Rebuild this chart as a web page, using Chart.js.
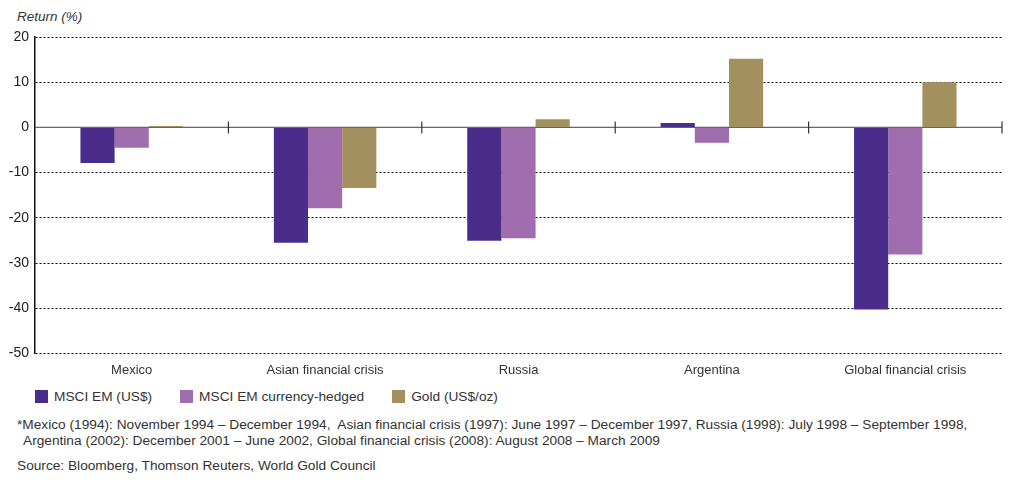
<!DOCTYPE html>
<html>
<head>
<meta charset="utf-8">
<script src="https://cdn.jsdelivr.net/npm/chart.js@4.4.1/dist/chart.umd.min.js"></script>
<style>
  html, body { margin: 0; padding: 0; background: #fff; }
  body { width: 1024px; height: 491px; position: relative; overflow: hidden;
         font-family: "Liberation Sans", Arial, sans-serif; color: #333; }
  #wrap { position: absolute; left: 0; top: 0; width: 1024px; height: 379px; }
  #ytitle { position: absolute; left: 17px; top: 9px; font-size: 13.5px; font-style: italic; color: #333; }
  #legend { position: absolute; left: 35px; top: 389px; font-size: 13.7px; display: flex; }
  #legend .item { display: flex; align-items: center; margin-right: 28px; }
  #legend .box { width: 13px; height: 13px; margin-right: 6px; }
  #note { position: absolute; left: 17px; top: 417px; font-size: 13.7px; line-height: 16px; }
  #note .l2 { padding-left: 6px; }
  #source { position: absolute; left: 17px; top: 458px; font-size: 13.7px; }
</style>
</head>
<body>
<div id="ytitle">Return (%)</div>
<div id="wrap"><canvas id="crisisChart"></canvas></div>
<div id="legend"></div>
<div id="note">*Mexico (1994): November 1994 – December 1994,&nbsp; Asian financial crisis (1997): June 1997 – December 1997, Russia (1998): July 1998 – September 1998,<br><span class="l2">Argentina (2002): December 2001 – June 2002, Global financial crisis (2008): August 2008 – March 2009</span></div>
<div id="source">Source: Bloomberg, Thomson Reuters, World Gold Council</div>
<script>
// categories and series values
let categories = ['Mexico', 'Asian financial crisis', 'Russia', 'Argentina', 'Global financial crisis'];
let msciUsd = [-7.9, -25.5, -25.1, 1.0, -40.3];
let msciHedged = [-4.5, -17.9, -24.5, -3.4, -28.1];
let goldUsd = [0.3, -13.4, 1.8, 15.2, 10.0];
let seriesNames = ['MSCI EM (US$)', 'MSCI EM currency-hedged', 'Gold (US$/oz)'];
let seriesColors = ['#4a2c8a', '#a06dae', '#a3905f'];
let yTicks = [20, 10, 0, -10, -20, -30, -40, -50];

// zero line + small category separators drawn on top of the grid
const zeroLine = {
  id: 'zeroLine',
  beforeDatasetsDraw(chart) {
    const ctx = chart.ctx, x = chart.scales.x, y = chart.scales.y;
    const y0 = y.getPixelForValue(0);
    ctx.save();
    ctx.strokeStyle = '#666';
    ctx.lineWidth = 1.2;
    ctx.beginPath();
    ctx.moveTo(chart.chartArea.left, y0);
    ctx.lineTo(chart.chartArea.right, y0);
    ctx.stroke();
    const half = (x.getPixelForValue(1) - x.getPixelForValue(0)) / 2;
    ctx.strokeStyle = '#333';
    for (let i = 0; i < categories.length; i++) {
      const px = x.getPixelForValue(i) + half;
      ctx.beginPath();
      ctx.moveTo(px, y0 - 6);
      ctx.lineTo(px, y0 + 6);
      ctx.stroke();
    }
    ctx.restore();
  }
};

let elChart = document.getElementById('crisisChart').getContext('2d');
let crisisChart = new Chart(elChart, {
  type: 'bar',
  data: {
    labels: categories,
    datasets: [
      { label: seriesNames[0], data: msciUsd, backgroundColor: seriesColors[0] },
      { label: seriesNames[1], data: msciHedged, backgroundColor: seriesColors[1] },
      { label: seriesNames[2], data: goldUsd, backgroundColor: seriesColors[2] }
    ]
  },
  plugins: [zeroLine],
  options: {
    responsive: true,
    maintainAspectRatio: false,
    animation: false,
    layout: { padding: { top: 37, right: 22, left: 0, bottom: 0 } },
    datasets: { bar: { categoryPercentage: 0.53, barPercentage: 1.0, borderWidth: 0 } },
    plugins: { legend: { display: false }, tooltip: { enabled: false } },
    scales: {
      x: {
        grid: { display: false },
        border: { display: false },
        ticks: { color: '#333', font: { family: 'Liberation Sans', size: 13 }, padding: 1 }
      },
      y: {
        min: -50, max: 20,
        afterBuildTicks: s => { s.ticks = yTicks.map(v => ({ value: v })); },
        afterFit: s => { s.width = 35; },
        grid: {
          color: c => c.tick && c.tick.value === 0 ? 'rgba(0,0,0,0)' : '#000',
          lineWidth: 1,
          drawTicks: false
        },
        border: { display: true, color: '#111', width: 1.5, dash: [2, 2] },
        ticks: { color: '#222', font: { family: 'Liberation Sans', size: 14 }, padding: 6 }
      }
    }
  }
});

// legend built from the series arrays
let legendEl = document.getElementById('legend');
for (let i = 0; i < seriesNames.length; i++) {
  let item = document.createElement('div');
  item.className = 'item';
  item.innerHTML = '<div class="box" style="background:' + seriesColors[i] + '"></div>' + seriesNames[i];
  legendEl.appendChild(item);
}
</script>
</body>
</html>
